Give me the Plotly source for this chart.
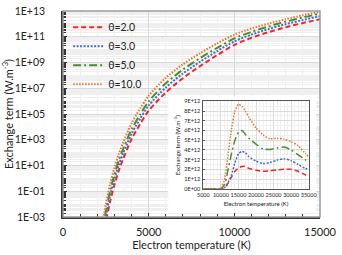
import plotly.graph_objects as go

# ---------------- main chart data ----------------
temp_main = [2300, 2500, 2750, 3000, 3250, 3500, 4000, 4500, 5000, 6000, 7000,
             8000, 9000, 10000, 11000, 12000, 13000, 14000, 15000]
ex_theta2 = [1.0e-5, 3.98e-4, 1.58e-2, 3.09e-1, 3.80, 2.95e1, 1.10e3, 1.66e4, 1.78e5,
             4.68e6, 6.03e7, 5.25e8, 3.80e9, 2.34e10, 8.32e10, 2.29e11, 5.50e11,
             1.17e12, 2.29e12]
ex_theta3 = [3.02e-5, 1.17e-3, 4.57e-2, 8.71e-1, 1.05e1, 8.13e1, 2.88e3, 4.27e4, 4.47e5,
             1.15e7, 1.41e8, 1.15e9, 7.76e9, 4.37e10, 1.48e11, 3.98e11, 9.55e11,
             2.00e12, 3.98e12]
ex_theta5 = [7.41e-5, 2.88e-3, 1.10e-1, 2.04, 2.45e1, 1.82e2, 6.46e3, 9.12e4, 9.55e5,
             2.40e7, 2.82e8, 2.19e9, 1.38e10, 7.41e10, 2.40e11, 6.31e11, 1.48e12,
             3.16e12, 6.17e12]
ex_theta10 = [2.51e-4, 9.55e-3, 3.55e-1, 6.46, 7.59e1, 5.62e2, 1.91e4, 2.63e5, 2.63e6,
              6.46e7, 7.24e8, 5.25e9, 3.02e10, 1.48e11, 4.37e11, 1.05e12, 2.29e12,
              4.68e12, 8.71e12]

# ---------------- inset data ----------------
temp_inset = [5000, 7000, 9000, 10000, 11000, 12000, 13000, 14000, 15000, 16000, 17000,
              18000, 20000, 22000, 24000, 26000, 28000, 30000, 32000, 34000, 35000]
in_theta2 = [0, 0, 0, 0, 0, 0.55e12, 1.2e12, 1.8e12, 2.15e12, 2.3e12, 2.3e12,
             2.1e12, 1.9e12, 1.8e12, 1.85e12, 1.95e12, 2.0e12, 2.0e12, 1.8e12, 1.45e12, 1.3e12]
in_theta3 = [0, 0, 0, 0, 0.1e12, 0.6e12, 1.4e12, 2.7e12, 3.6e12, 3.85e12, 3.7e12,
             3.3e12, 2.85e12, 2.6e12, 2.7e12, 2.95e12, 3.1e12, 2.9e12, 2.5e12, 2.1e12, 2.0e12]
in_theta5 = [0, 0, 0, 0.02e12, 0.4e12, 1.9e12, 3.6e12, 5.0e12, 5.8e12, 6.0e12, 5.6e12,
             5.2e12, 4.6e12, 4.1e12, 4.05e12, 4.2e12, 4.3e12, 4.0e12, 3.5e12, 3.0e12, 2.7e12]
in_theta10 = [0, 0, 0, 0.05e12, 0.9e12, 3.4e12, 6.1e12, 8.0e12, 8.7e12, 8.5e12, 8.0e12,
              7.35e12, 6.25e12, 5.55e12, 5.15e12, 5.2e12, 5.1e12, 4.85e12, 4.45e12, 3.65e12, 3.3e12]

series_names = ["θ=2.0", "θ=3.0", "θ=5.0", "θ=10.0"]
series_colors = ["#F0262A", "#3F6FD0", "#4E8A2E", "#E2762E"]
series_dash = ["5px,3px", "2px,1.5px", "8px,3px,2px,3px", "1.5px,1.5px"]

main_ticks_y = [1e-3, 1e-1, 1e1, 1e3, 1e5, 1e7, 1e9, 1e11, 1e13]
main_ticks_y_text = ["1E-03", "1E-01", "1E+01", "1E+03", "1E+05", "1E+07", "1E+09", "1E+11", "1E+13"]
inset_ticks_y = [0, 1e12, 2e12, 3e12, 4e12, 5e12, 6e12, 7e12, 8e12, 9e12]
inset_ticks_y_text = ["0E+00", "1E+12", "2E+12", "3E+12", "4E+12", "5E+12", "6E+12", "7E+12", "8E+12", "9E+12"]

FONT = "Lato, 'Open Sans', sans-serif"

fig = go.Figure()

main_series = [ex_theta2, ex_theta3, ex_theta5, ex_theta10]
inset_series = [in_theta2, in_theta3, in_theta5, in_theta10]

for name, vals, col, dash in zip(series_names, main_series, series_colors, series_dash):
    fig.add_trace(go.Scatter(x=temp_main, y=vals, mode="lines", name=name,
                             line=dict(color=col, width=2, dash=dash, shape="spline", smoothing=0.8),
                             xaxis="x", yaxis="y"))

# empty trace to create the white background panel subplot
fig.add_trace(go.Scatter(x=[], y=[], xaxis="x2", yaxis="y2", showlegend=False))

for name, vals, col, dash in zip(series_names, inset_series, series_colors, series_dash):
    fig.add_trace(go.Scatter(x=temp_inset, y=vals, mode="lines", name=name, showlegend=False,
                             line=dict(color=col, width=1.5, dash=dash, shape="spline", smoothing=0.6),
                             xaxis="x3", yaxis="y3"))

fig.update_layout(
    width=342, height=255,
    margin=dict(l=55, r=14, t=5, b=38),
    paper_bgcolor="white", plot_bgcolor="white",
    font=dict(family=FONT, size=11, color="#222"),
    showlegend=True,
    legend=dict(x=0.02, y=0.992, xanchor="left", yanchor="top",
                bgcolor="rgba(0,0,0,0)", font=dict(size=10.5, family=FONT),
                itemwidth=30, tracegroupgap=0),
    xaxis=dict(domain=[0, 1], range=[0, 15000], dtick=5000, tick0=0, tickformat="d",
               ticklabeloverflow="allow",
               showline=True, linecolor="#333", linewidth=1.5, mirror=False,
               ticks="inside", ticklen=4, tickcolor="#333",
               showgrid=True, gridcolor="#d9d9d9", gridwidth=1, zeroline=False,
               minor=dict(dtick=1000, ticks="inside", ticklen=3, tickcolor="#333",
                          showgrid=True, gridcolor="#efefef"),
               ticklabelstandoff=4,
               title=dict(text="Electron temperature (K)", font=dict(size=11), standoff=4)),
    yaxis=dict(domain=[0, 1], type="log", range=[-3, 13],
               tickvals=main_ticks_y, ticktext=main_ticks_y_text,
               ticklabeloverflow="allow",
               showline=True, linecolor="#333", linewidth=1.5,
               ticks="inside", ticklen=4, tickcolor="#333",
               showgrid=True, gridcolor="#d9d9d9", zeroline=False,
               minor=dict(dtick="D1", ticks="inside", ticklen=3, tickcolor="#333",
                          showgrid=True, gridcolor="#efefef"),
               ticklabelstandoff=14, tickfont=dict(size=10.5),
               title=dict(text="Exchange term (W.m<sup>-3</sup>)", font=dict(size=11), standoff=2)),
    xaxis2=dict(domain=[0.41, 0.985], range=[0, 1], visible=False, anchor="y2", fixedrange=True),
    yaxis2=dict(domain=[0.02, 0.585], range=[0, 1], visible=False, anchor="x2", fixedrange=True),
    xaxis3=dict(domain=[0.546, 0.956], range=[5000, 35000], dtick=5000, tick0=5000, tickformat="d",
                anchor="y3", tickangle=0, ticklabeloverflow="allow",
                showline=True, linecolor="#555", linewidth=1, mirror=True,
                ticks="", showgrid=True, gridcolor="#dcdcdc", zeroline=False,
                minor=dict(dtick=1000, showgrid=True, gridcolor="#f0f0f0"),
                tickfont=dict(size=5.5), ticklabelstandoff=1,
                title=dict(text="Electron temperature (K)", font=dict(size=6), standoff=4)),
    yaxis3=dict(domain=[0.137, 0.561], range=[0, 9e12], anchor="x3",
                tickvals=inset_ticks_y, ticktext=inset_ticks_y_text, ticklabeloverflow="allow",
                showline=True, linecolor="#555", linewidth=1, mirror=True,
                ticks="inside", ticklen=2, tickcolor="#555",
                showgrid=True, gridcolor="#dcdcdc", zeroline=False,
                minor=dict(dtick=0.5e12, showgrid=True, gridcolor="#f0f0f0"),
                tickfont=dict(size=5.5), ticklabelstandoff=1,
                title=dict(text="Exchange term (W.m<sup>-3</sup>)", font=dict(size=6), standoff=3)),
    shapes=[
        dict(type="rect", xref="x2", yref="y2", x0=0, x1=1, y0=0, y1=1,
             fillcolor="white", line=dict(width=0), layer="below"),
        dict(type="rect", xref="paper", yref="paper", x0=0, x1=1, y0=0, y1=1,
             line=dict(color="#9a9a9a", width=1.5), layer="above"),
    ],
)

fig.write_html("out.html", config={"displayModeBar": False},
               post_script="document.body.style.margin='0px';document.body.style.padding='0px';")
